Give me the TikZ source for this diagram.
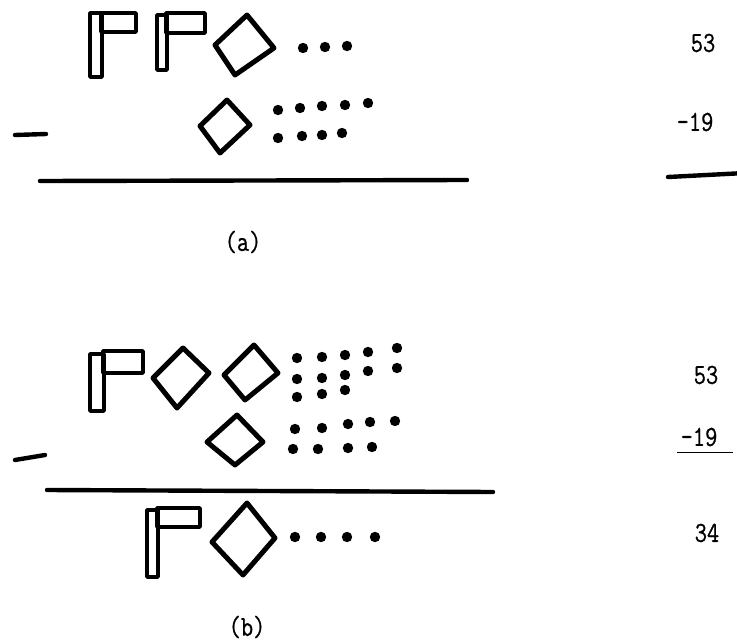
\documentclass[tikz,border=0pt]{standalone}
\usepackage{fontspec}
\newfontfamily\typefont[FakeStretch=0.82,FakeBold=0.8]{Latin Modern Mono}
\begin{document}
\begin{tikzpicture}[x=1pt,y=-1pt,
  flagline/.style={line width=3.6pt, line join=round, line cap=round},
  diamline/.style={line width=5pt, line join=round, line cap=round},
  rule/.style={line width=4.4pt, line cap=round},
  dotmark/.style={fill=black},
  numtext/.style={font=\typefont\fontsize{29}{31}\selectfont, inner sep=0pt},
  captext/.style={font=\typefont\fontsize{29}{31}\selectfont, inner sep=0pt}]
\useasboundingbox (0,0) rectangle (737,643);

% ---------------- (a) ----------------
% flags
\draw[flagline] (90,13) rectangle (102,77);
\draw[flagline] (101,13) rectangle (136,32);
\draw[flagline] (157,15) rectangle (167,70);
\draw[flagline] (166,13) rectangle (205,33);
% diamond
\draw[diamline] (247,15) -- (274,48) -- (235,75) -- (215,45) -- cycle;
% dots
\foreach \p in {(303,48),(325,47),(347,46)} \fill[dotmark] \p circle (5.2);
% minus
\draw[rule] (15,135) -- (46,134);
% subtrahend
\draw[diamline] (227,100) -- (250,125) -- (220,153) -- (200,126) -- cycle;
\foreach \p in {(278,110),(300,108),(322,106),(345,105),(368,103),
                (278,138),(302,136),(322,135),(342,133)}
  \fill[dotmark] \p circle (5.2);
% rule
\draw[rule] (40,181) -- (467,180);
% numbers
\node[numtext] (a53) at (703,43) {53};
\node[numtext] (a19) at (695,122) {-19};
\coordinate (ar1) at (668,177);
\coordinate (ar2) at (745,173);
\draw[rule] (ar1) -- (ar2);
\node[captext] (acap) at (243,242) {(a)};

% ---------------- (b) ----------------
\draw[flagline] (90,354) rectangle (104,411);
\draw[flagline] (103,351) rectangle (143,373);
\draw[diamline] (183,348) -- (209,373) -- (177,408) -- (153,378) -- cycle;
\draw[diamline] (254,345) -- (278,373) -- (245,400) -- (224,375) -- cycle;
\foreach \p in {(297,358),(322,357),(345,355),(368,352),(397,348),
                (297,379),(322,378),(345,375),(368,371),(397,368),
                (297,397),(322,394),(345,390)}
  \fill[dotmark] \p circle (5.2);
% minus
\draw[rule] (15,460) -- (45,455);
% subtrahend
\draw[diamline] (237,415) -- (263,442) -- (235,465) -- (207,442) -- cycle;
\foreach \p in {(295,429),(322,428),(348,424),(370,422),(395,421),
                (293,449),(318,449),(348,448),(372,447)}
  \fill[dotmark] \p circle (5.2);
% rule
\draw[rule] (47,490) -- (493,492);
% result
\draw[flagline] (147,510) rectangle (158,577);
\draw[flagline] (157,508) rectangle (200,527);
\draw[diamline] (247,503) -- (275,538) -- (243,575) -- (212,542) -- cycle;
\foreach \p in {(295,537),(321,537),(347,537),(375,537)}
  \fill[dotmark] \p circle (5.2);
% numbers
\node[numtext] (b53) at (706,375) {53};
\node[numtext] (b19) at (699,437) {-19};
\draw[line width=1.3pt] (b19.south west) ++(-3,6) -- ++(56,0);
\node[numtext] (b34) at (707,533) {34};
\node[captext] (bcap) at (247,627) {(b)};
\end{tikzpicture}
\end{document}
